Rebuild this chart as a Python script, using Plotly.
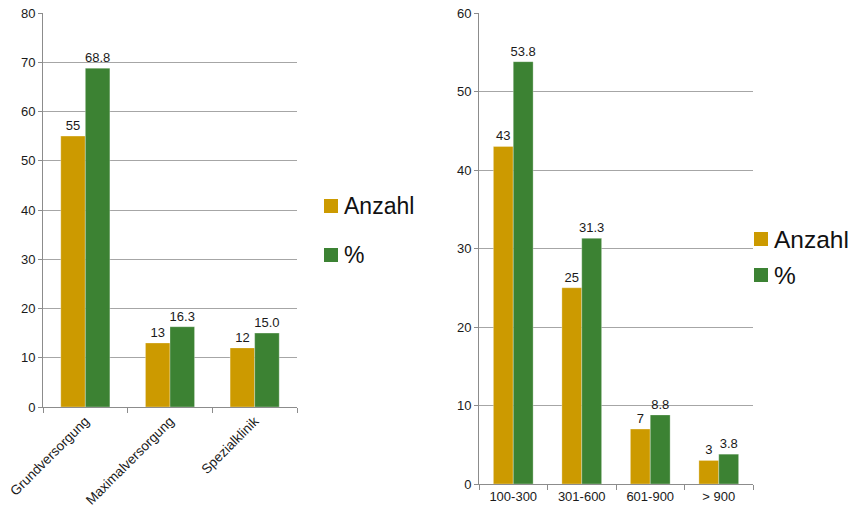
import plotly.graph_objects as go

# Left chart data
cat_left = ["Grundversorgung", "Maximalversorgung", "Spezialklinik"]
anzahl_left = [55, 13, 12]
pct_left = [68.8, 16.3, 15.0]

# Right chart data
cat_right = ["100-300", "301-600", "601-900", "> 900"]
anzahl_right = [43, 25, 7, 3]
pct_right = [53.8, 31.3, 8.8, 3.8]

series_names = ["Anzahl", "%"]

ORANGE = "#CC9A00"
GREEN = "#3C8233"
FONT = "Liberation Sans, Arial, sans-serif"
GRID = "#A6A6A6"
AXIS = "#8C8C8C"

W, H = 857, 510

fig = go.Figure()

def add_pair(cats, a, p, xa, ya):
    fig.add_trace(go.Bar(
        x=cats, y=a, name=series_names[0], xaxis=xa, yaxis=ya, showlegend=False,
        marker=dict(color=ORANGE, line=dict(color="rgba(255,255,255,0.6)", width=0.5)),
        text=[str(v) for v in a], textposition="outside", cliponaxis=False,
        textfont=dict(family=FONT, size=13, color="#1a1a1a"),
    ))
    fig.add_trace(go.Bar(
        x=cats, y=p, name=series_names[1], xaxis=xa, yaxis=ya, showlegend=False,
        marker=dict(color=GREEN, line=dict(color="rgba(255,255,255,0.6)", width=0.5)),
        text=[f"{v:.1f}" for v in p], textposition="outside", cliponaxis=False,
        textfont=dict(family=FONT, size=13, color="#1a1a1a"),
    ))

add_pair(cat_left, anzahl_left, pct_left, "x", "y")
add_pair(cat_right, anzahl_right, pct_right, "x2", "y2")

def px(x):
    return x / W
def py(y):
    return (H - y) / H
def dx(a, b):
    return [px(a), px(b)]
def dy(top, bottom):
    return [py(bottom), py(top)]

axis_common = dict(
    showline=True, linecolor=AXIS, linewidth=1,
    ticks="outside", tickcolor=AXIS,
    automargin=False,
)
tickfont = dict(family=FONT, size=13, color="#1a1a1a")

# manual legends (square swatch + text)
shapes = []
annotations = []
def legend_block(x0, size, items, fsize):
    for (ytop, color, label) in items:
        shapes.append(dict(type="rect", xref="paper", yref="paper",
                           x0=px(x0), x1=px(x0 + size), y0=py(ytop + size), y1=py(ytop),
                           fillcolor=color, line=dict(width=0)))
        annotations.append(dict(xref="paper", yref="paper", x=px(x0 + size + 4),
                                y=py(ytop + size / 2), text=label, showarrow=False,
                                xanchor="left", yanchor="middle",
                                font=dict(family=FONT, size=fsize, color="#111")))

legend_block(324, 14, [(199, ORANGE, series_names[0]), (248, GREEN, series_names[1])], 23)
legend_block(754, 14, [(232, ORANGE, series_names[0]), (268, GREEN, series_names[1])], 24.5)

fig.update_layout(
    width=W, height=H,
    margin=dict(l=0, r=0, t=0, b=0),
    paper_bgcolor="white", plot_bgcolor="white",
    barmode="group", bargap=0.42, bargroupgap=0,
    font=dict(family=FONT, color="#1a1a1a"),
    showlegend=False,
    uniformtext=dict(mode="show", minsize=13),
    xaxis=dict(domain=dx(43, 297), anchor="y", tickangle=-45, tickson="boundaries",
               showgrid=False, ticklen=5,
               tickfont=dict(family=FONT, size=13.5, color="#1a1a1a"), **axis_common),
    yaxis=dict(domain=dy(13, 407), anchor="x", range=[0, 80], dtick=10,
               showgrid=True, gridcolor=GRID, gridwidth=1, zeroline=False, ticklen=4,
               tickfont=tickfont, **axis_common),
    xaxis2=dict(domain=dx(479, 753), anchor="y2", tickangle=0, tickson="boundaries",
                showgrid=False, ticklen=5, tickfont=tickfont, **axis_common),
    yaxis2=dict(domain=dy(13, 484), anchor="x2", range=[0, 60], dtick=10,
                showgrid=True, gridcolor=GRID, gridwidth=1, zeroline=False, ticklen=4,
                tickfont=tickfont, **axis_common),
    shapes=shapes,
    annotations=annotations,
)

fig.write_html(
    "out.html",
    config={"displayModeBar": False},
    post_script=(
        "document.body.style.margin='0';"
        "document.body.style.overflow='hidden';"
        "document.documentElement.style.overflow='hidden';"
    ),
)
